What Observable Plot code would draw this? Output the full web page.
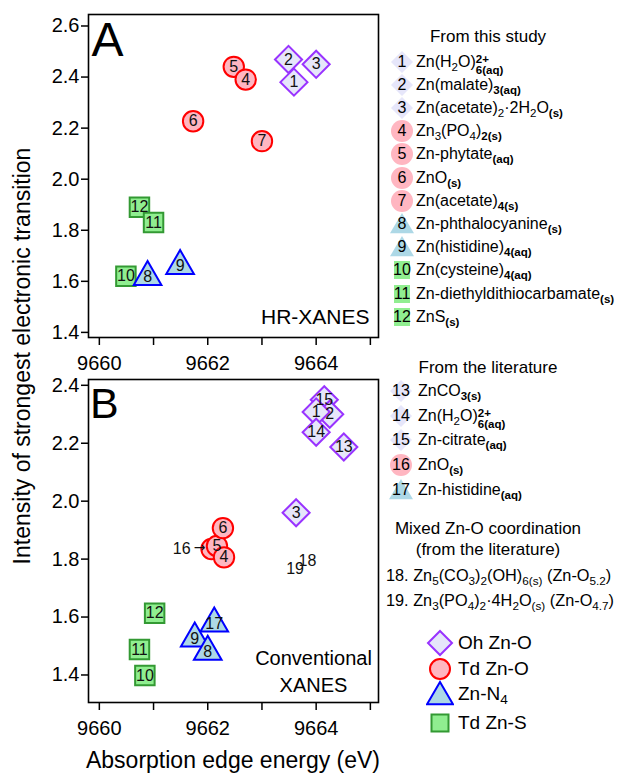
<!DOCTYPE html>
<html><head><meta charset="utf-8">
<script src="https://cdn.jsdelivr.net/npm/d3@7"></script>
<script src="https://cdn.jsdelivr.net/npm/@observablehq/plot@0.6"></script>
<style>
body{margin:0;background:#fff}
#wrap{position:relative;width:619px;height:774px;font-family:"Liberation Sans",Arial,sans-serif;color:#000;overflow:hidden;background:#fff}
.abs{position:absolute;white-space:nowrap;line-height:1}
sub{font-size:0.72em;vertical-align:-0.32em;line-height:0}
sub.ph{font-weight:bold}
.ss{display:inline-block;font-size:0.72em;line-height:0.95;vertical-align:-0.62em;font-weight:bold}
.num{position:absolute;text-align:center;width:30px}
.num svg{position:absolute;left:50%;top:50%;transform:translate(-50%,-50%);z-index:0}
.num span{position:relative;z-index:1}
</style></head><body><div id="wrap"></div>
<script>
// ---------- Panel A (HR-XANES) ----------
const aOhId = ["2", "1", "3"];
const aOhX = [9663.49, 9663.59, 9664.0];
const aOhY = [2.469, 2.38, 2.45];
const aTdOId = ["5", "4", "6", "7"];
const aTdOX = [9662.48, 9662.70, 9661.73, 9663.0];
const aTdOY = [2.44, 2.39, 2.227, 2.149];
const aZnNId = ["9", "8"];
const aZnNX = [9661.49, 9660.89];
const aZnNY = [1.66, 1.617];
const aTdSId = ["12", "11", "10"];
const aTdSX = [9660.74, 9661.0, 9660.49];
const aTdSY = [1.89, 1.83, 1.62];

// ---------- Panel B (Conventional XANES) ----------
const bOhId = ["15", "2", "1", "14", "13", "3"];
const bOhX = [9664.15, 9664.25, 9664.0, 9664.0, 9664.51, 9663.63];
const bOhY = [2.35, 2.30, 2.308, 2.238, 2.187, 1.96];
const bTdOId = ["16", "5", "4", "6"];
const bTdOX = [9662.07, 9662.17, 9662.30, 9662.28];
const bTdOY = [1.835, 1.845, 1.806, 1.907];
const bZnNId = ["17", "9", "8"];
const bZnNX = [9662.12, 9661.76, 9662.0];
const bZnNY = [1.578, 1.526, 1.48];
const bTdSId = ["12", "11", "10"];
const bTdSX = [9661.02, 9660.74, 9660.84];
const bTdSY = [1.613, 1.488, 1.398];
const bMixedId = ["18", "19"];
const bMixedX = [9663.84, 9663.61];
const bMixedY = [1.795, 1.765];
const bArrowId = ["16"];   // label drawn outside its marker with an arrow

// ---------- axes ----------
const xTicks = [9660, 9661, 9662, 9663, 9664, 9665];
const yTicksA = [1.4, 1.6, 1.8, 2.0, 2.2, 2.4, 2.6];
const yTicksB = [1.4, 1.6, 1.8, 2.0, 2.2, 2.4];
const xTitle = "Absorption edge energy (eV)";
const yTitle = "Intensity of strongest electronic transition";

// ---------- legend ----------
const studyIds = ["1","2","3","4","5","6","7","8","9","10","11","12"];
const studyGroups = ["Oh","Oh","Oh","TdO","TdO","TdO","TdO","ZnN","ZnN","TdS","TdS","TdS"];
const studyNames = [
  'Zn(H<sub>2</sub>O)<span class="ss">2+<br>6(aq)</span>',
  'Zn(malate)<sub class="ph">3(aq)</sub>',
  'Zn(acetate)<sub>2</sub>·2H<sub>2</sub>O<sub class="ph">(s)</sub>',
  'Zn<sub>3</sub>(PO<sub>4</sub>)<sub class="ph">2(s)</sub>',
  'Zn-phytate<sub class="ph">(aq)</sub>',
  'ZnO<sub class="ph">(s)</sub>',
  'Zn(acetate)<sub class="ph">4(s)</sub>',
  'Zn-phthalocyanine<sub class="ph">(s)</sub>',
  'Zn(histidine)<sub class="ph">4(aq)</sub>',
  'Zn(cysteine)<sub class="ph">4(aq)</sub>',
  'Zn-diethyldithiocarbamate<sub class="ph">(s)</sub>',
  'ZnS<sub class="ph">(s)</sub>'
];
const litIds = ["13","14","15","16","17"];
const litGroups = ["Oh","Oh","Oh","TdO","ZnN"];
const litNames = [
  'ZnCO<sub class="ph">3(s)</sub>',
  'Zn(H<sub>2</sub>O)<span class="ss">2+<br>6(aq)</span>',
  'Zn-citrate<sub class="ph">(aq)</sub>',
  'ZnO<sub class="ph">(s)</sub>',
  'Zn-histidine<sub class="ph">(aq)</sub>'
];
const mixedLines = [
  '18. Zn<sub>5</sub>(CO<sub>3</sub>)<sub>2</sub>(OH)<sub>6(s)</sub> (Zn-O<sub>5.2</sub>)',
  '19. Zn<sub>3</sub>(PO<sub>4</sub>)<sub>2</sub>·4H<sub>2</sub>O<sub>(s)</sub> (Zn-O<sub>4.7</sub>)'
];
const groupKeys = ["Oh","TdO","ZnN","TdS"];
const groupNames = ["Oh Zn-O","Td Zn-O","Zn-N<sub>4</sub>","Td Zn-S"];
const headStudy = "From this study";
const headLit = "From the literature";
const headMixed1 = "Mixed Zn-O coordination";
const headMixed2 = "(from the literature)";

// ---------- styles ----------
const sty = {
  Oh:  {symbol: "diamond2", r: 12.2, fill: "#e6e6fa", stroke: "#9933ff"},
  TdO: {symbol: "circle",   r: 10.2, fill: "#ffb6c1", stroke: "#ff0000"},
  ZnN: {symbol: "triangle2",r: 13.2, fill: "#add8e6", stroke: "#0000ff"},
  TdS: {symbol: "square2",  r: 12.4, fill: "#90ee90", stroke: "#339933"}
};
const FONT = '"Liberation Sans", Arial, sans-serif';

const rows = (ids, xs, ys) => ids.map((id, i) => ({id, x: xs[i], y: ys[i]}));

function dots(data, key) {
  const s = sty[key];
  return Plot.dot(data, {x: "x", y: "y", symbol: s.symbol, r: s.r, fill: s.fill, stroke: s.stroke, strokeWidth: 2});
}

function panel({height, yDomain, yTicks, groups, labels, extra}) {
  const marks = [
    Plot.axisY({ticks: yTicks, tickFormat: d3.format(".1f"), tickSize: 7, tickPadding: 2, fontSize: 20, label: null, strokeWidth: 1.5}),
    Plot.axisX({ticks: xTicks, tickFormat: d => d % 2 === 0 ? String(d) : "", tickSize: 8, tickPadding: 10, fontSize: 20, label: null, strokeWidth: 1.5}),
  ];
  for (const [data, key] of groups) marks.push(dots(data, key));
  marks.push(Plot.text(labels, {x: "x", y: "y", text: "id", fontSize: 16, fill: "#111"}));
  marks.push(...extra);
  marks.push(Plot.frame({stroke: "#000", strokeWidth: 1.6}));
  return Plot.plot({
    width: 380, height, marginLeft: 88, marginRight: 2, marginTop: 14, marginBottom: height - 337,
    style: {fontFamily: FONT, fontSize: "20px", background: "transparent", overflow: "visible", color: "#000"},
    x: {domain: [9659.8, 9665.15]},
    y: {domain: yDomain},
    marks
  });
}

const A = {
  Oh: rows(aOhId, aOhX, aOhY), TdO: rows(aTdOId, aTdOX, aTdOY),
  ZnN: rows(aZnNId, aZnNX, aZnNY), TdS: rows(aTdSId, aTdSX, aTdSY)
};
const B = {
  Oh: rows(bOhId, bOhX, bOhY), TdO: rows(bTdOId, bTdOX, bTdOY),
  ZnN: rows(bZnNId, bZnNX, bZnNY), TdS: rows(bTdSId, bTdSX, bTdSY)
};

const plotA = panel({
  height: 367, yDomain: [1.38, 2.645], yTicks: yTicksA,
  groups: [[A.Oh, "Oh"], [A.TdO, "TdO"], [A.TdS, "TdS"], [A.ZnN, "ZnN"]],
  labels: [...A.Oh, ...A.TdO, ...A.TdS, ...A.ZnN],
  extra: [
    Plot.text(["A"], {frameAnchor: "top-left", text: d => d, dx: 3, dy: 7, lineAnchor: "top", textAnchor: "start", fontSize: 48}),
    Plot.text(["HR-XANES"], {frameAnchor: "bottom-right", text: d => d, dx: -9, dy: -20.7, textAnchor: "end", lineAnchor: "middle", fontSize: 21})
  ]
});

const bArrow = B.TdO.filter(d => bArrowId.includes(d.id));
const plotB = panel({
  height: 374, yDomain: [1.305, 2.42], yTicks: yTicksB,
  groups: [[B.Oh, "Oh"], [B.TdO, "TdO"], [B.TdS, "TdS"], [B.ZnN, "ZnN"]],
  labels: [...B.Oh, ...B.TdO.filter(d => !bArrowId.includes(d.id)), ...B.TdS, ...B.ZnN, ...rows(bMixedId, bMixedX, bMixedY)],
  extra: [
    Plot.text(bArrow, {x: "x", y: "y", text: "id", textAnchor: "end", dx: -21, fontSize: 16, fill: "#111"}),
    Plot.text(bArrow, {x: "x", y: "y", text: () => "\u2192", textAnchor: "end", dx: -6, dy: -1, fontSize: 14, fontFamily: "DejaVu Sans", fill: "#111"}),
    Plot.text(["B"], {frameAnchor: "top-left", text: d => d, dx: 1.5, dy: 7.5, lineAnchor: "top", textAnchor: "start", fontSize: 43}),
    Plot.text(["Conventional\nXANES"], {frameAnchor: "bottom-right", text: d => d, dx: -65, dy: -33, textAnchor: "middle", lineAnchor: "middle", lineHeight: 1.35, fontSize: 20})
  ]
});

const wrap = document.getElementById("wrap");
function place(el, left, top) { el.style.position = "absolute"; el.style.left = left + "px"; el.style.top = top + "px"; wrap.appendChild(el); }
place(plotA, 0, 0);
place(plotB, 0, 365);

function div(html, css) { const d = document.createElement("div"); d.className = "abs"; d.innerHTML = html; Object.assign(d.style, css); wrap.appendChild(d); return d; }

// axis titles
div(yTitle, {left: "22px", top: "356px", fontSize: "23px", transform: "translate(-50%,-50%) rotate(-90deg)"});
div(xTitle, {left: "233px", top: "760px", fontSize: "23px", transform: "translate(-50%,-50%)"});

// legend icons
function icon(key, outlined) {
  const s = sty[key];
  const sw = outlined ? 2 : 0;
  const st = outlined ? s.stroke : "none";
  let shape;
  if (key === "Oh") { const h = outlined ? 12 : 11; shape = `<polygon points="14,${14-h} ${14+h},14 14,${14+h} ${14-h},14" fill="${s.fill}" stroke="${st}" stroke-width="${sw}"/>`; }
  else if (key === "TdO") { const r = outlined ? 10 : 11; shape = `<circle cx="14" cy="14" r="${r}" fill="${s.fill}" stroke="${st}" stroke-width="${sw}"/>`; }
  else if (key === "ZnN") { const w = outlined ? 13 : 12, t = outlined ? 12 : 11; shape = `<polygon points="14,${14-t} ${14+w},${14+t*0.85} ${14-w},${14+t*0.85}" fill="${s.fill}" stroke="${st}" stroke-width="${sw}"/>`; }
  else { const w = outlined ? 8.5 : 8, h = outlined ? 8.5 : 9; shape = `<rect x="${14-w}" y="${14-h}" width="${2*w}" height="${2*h}" fill="${s.fill}" stroke="${st}" stroke-width="${sw}"/>`; }
  return `<svg width="28" height="28" viewBox="0 0 28 28">${shape}</svg>`;
}

const LFS = "16px";
div(headStudy, {left: "488px", top: "36px", fontSize: "17px", transform: "translate(-50%,-50%)"});
studyIds.forEach((id, i) => {
  const cy = 61.5 + i * 23.2;
  const n = div(`${icon(studyGroups[i], false)}<span>${id}</span>`, {left: "387px", top: (cy - 8) + "px", fontSize: LFS});
  n.classList.add("num");
  div(studyNames[i], {left: "416px", top: (cy - 8) + "px", fontSize: LFS});
});

div(headLit, {left: "488px", top: "367px", fontSize: "17px", transform: "translate(-50%,-50%)"});
litIds.forEach((id, i) => {
  const cy = 391 + i * 24.7;
  const n = div(`${icon(litGroups[i], false)}<span>${id}</span>`, {left: "386px", top: (cy - 8) + "px", fontSize: LFS});
  n.classList.add("num");
  div(litNames[i], {left: "418px", top: (cy - 8) + "px", fontSize: LFS});
});

div(headMixed1, {left: "488px", top: "528px", fontSize: "17px", transform: "translate(-50%,-50%)"});
div(headMixed2, {left: "488px", top: "549px", fontSize: "17px", transform: "translate(-50%,-50%)"});
mixedLines.forEach((h, i) => {
  div(h, {left: "386px", top: (575 + i * 25 - 8) + "px", fontSize: "16.3px"});
});

groupKeys.forEach((k, i) => {
  const cy = [643, 669, 694, 723][i];
  div(icon(k, true), {left: "426px", top: (cy - 14) + "px"});
  div(groupNames[i], {left: "458px", top: (cy - 10) + "px", fontSize: "19px"});
});
</script></body></html>
